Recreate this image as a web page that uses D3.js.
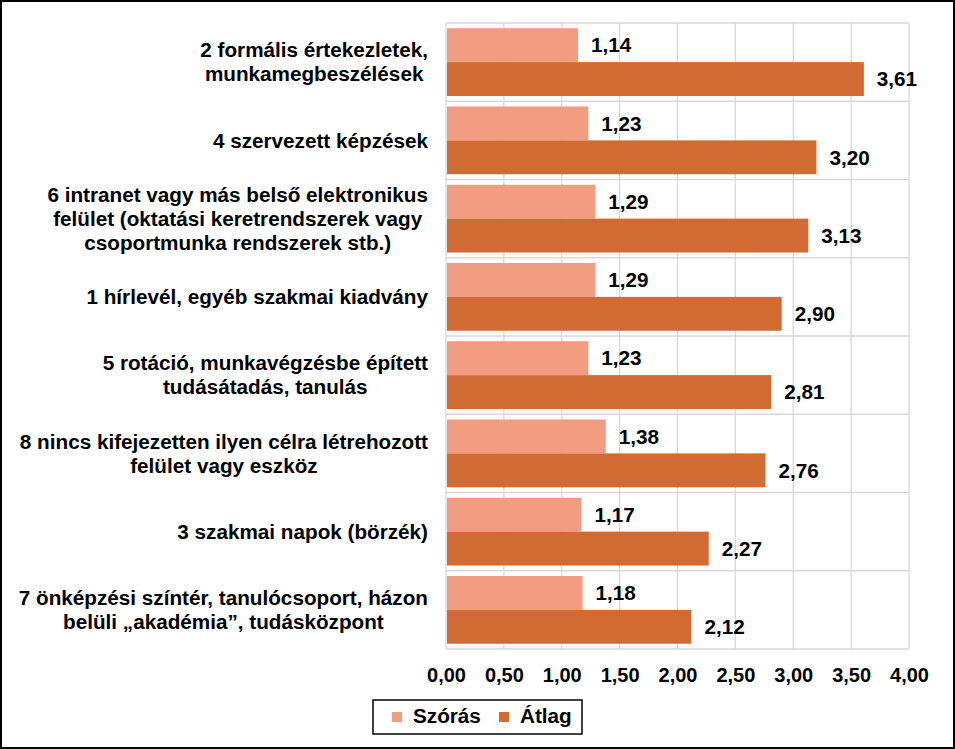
<!DOCTYPE html>
<html><head><meta charset="utf-8">
<script src="https://cdn.jsdelivr.net/npm/d3@7"></script>
<style>html,body{margin:0;padding:0;background:#fff;}svg{display:block;}</style>
</head><body>
<script>
const categories = [
  ["2 formális értekezletek,", "munkamegbeszélések"],
  ["4 szervezett képzések"],
  ["6 intranet vagy más belső elektronikus", "felület (oktatási keretrendszerek vagy", "csoportmunka rendszerek stb.)"],
  ["1 hírlevél, egyéb szakmai kiadvány"],
  ["5 rotáció, munkavégzésbe épített", "tudásátadás, tanulás"],
  ["8 nincs kifejezetten ilyen célra létrehozott", "felület vagy eszköz"],
  ["3 szakmai napok (börzék)"],
  ["7 önképzési színtér, tanulócsoport, házon", "belüli „akadémia”, tudásközpont"]
];
const seriesNames = ["Szórás", "Átlag"];
const szoras = [1.14, 1.23, 1.29, 1.29, 1.23, 1.38, 1.17, 1.18];
const atlag = [3.61, 3.20, 3.13, 2.90, 2.81, 2.76, 2.27, 2.12];
const xTicks = [0, 0.5, 1, 1.5, 2, 2.5, 3, 3.5, 4];
const colors = ["#F29C82", "#D26B33"];

const W = 955, H = 749;
const plot = {left: 446, right: 909, top: 23, bottom: 649};
const font = "'Liberation Sans', Arial, sans-serif";
const FS = 20.7;
const fmt = v => v.toFixed(2).replace(".", ",");

const svg = d3.select("body").append("svg").attr("width", W).attr("height", H);
svg.append("rect").attr("x", 1).attr("y", 1).attr("width", W - 2).attr("height", H - 2)
  .attr("fill", "#fff").attr("stroke", "#000").attr("stroke-width", 2);

const x = d3.scaleLinear().domain([0, 4]).range([plot.left, plot.right]);
const y = d3.scaleBand().domain(d3.range(categories.length)).range([plot.top, plot.bottom]).paddingInner(0).paddingOuter(0);
const inner = d3.scaleBand().domain([0, 1]).range([0, y.bandwidth()]).paddingOuter(0.155).paddingInner(0);

// grid
const g = svg.append("g");
g.selectAll("line.v").data(xTicks).join("line")
  .attr("x1", d => x(d)).attr("x2", d => x(d)).attr("y1", plot.top).attr("y2", plot.bottom)
  .attr("stroke", "#d9d9d9").attr("stroke-width", 1.3);
g.selectAll("line.h").data(d3.range(categories.length + 1)).join("line")
  .attr("x1", plot.left).attr("x2", plot.right)
  .attr("y1", d => d < categories.length ? y(d) : plot.bottom)
  .attr("y2", d => d < categories.length ? y(d) : plot.bottom)
  .attr("stroke", "#d9d9d9").attr("stroke-width", 1.3);

// axis labels via d3 axis
const axis = d3.axisBottom(x).tickValues(xTicks).tickFormat(fmt).tickSize(0).tickPadding(19);
const ax = svg.append("g").attr("transform", `translate(0,${plot.bottom})`).call(axis);
ax.select(".domain").remove();
ax.selectAll("text").attr("font-family", font).attr("font-size", 20).attr("font-weight", "bold").attr("fill", "#000");

// bars
const data = [szoras, atlag];
data.forEach((vals, si) => {
  svg.append("g").selectAll("rect").data(vals).join("rect")
    .attr("x", x(0) + 1)
    .attr("y", (d, i) => y(i) + inner(si))
    .attr("width", d => x(d) - x(0) - 1)
    .attr("height", inner.bandwidth())
    .attr("fill", colors[si]);
  svg.append("g").selectAll("text").data(vals).join("text")
    .attr("x", d => x(d) + 13)
    .attr("y", (d, i) => y(i) + inner(si) + inner.bandwidth() / 2)
    .attr("dy", "0.35em")
    .attr("font-family", font).attr("font-size", FS).attr("font-weight", "bold")
    .text(d => fmt(d));
});

// category labels
const lineH = 24;
categories.forEach((lines, i) => {
  const grp = svg.append("g");
  const texts = lines.map(l => grp.append("text").attr("font-family", font).attr("font-size", FS)
    .attr("font-weight", "bold").attr("text-anchor", "middle").text(l));
  const maxW = d3.max(texts, t => t.node().getComputedTextLength());
  const cx = 428 - maxW / 2;
  const cy = y(i) + y.bandwidth() / 2;
  texts.forEach((t, k) => {
    t.attr("x", cx).attr("y", cy + (k - (lines.length - 1) / 2) * lineH).attr("dy", "0.35em");
  });
});

// legend
const leg = svg.append("g");
leg.append("rect").attr("x", 373).attr("y", 700).attr("width", 209).attr("height", 34)
  .attr("fill", "#fff").attr("stroke", "#000").attr("stroke-width", 1.5);
const legX = [392, 499];
seriesNames.forEach((n, i) => {
  leg.append("rect").attr("x", legX[i]).attr("y", 712).attr("width", 10).attr("height", 10).attr("fill", colors[i]);
  leg.append("text").attr("x", legX[i] + 21).attr("y", 716).attr("dy", "0.35em")
    .attr("font-family", font).attr("font-size", FS).attr("font-weight", "bold").text(n);
});
</script>
</body></html>
